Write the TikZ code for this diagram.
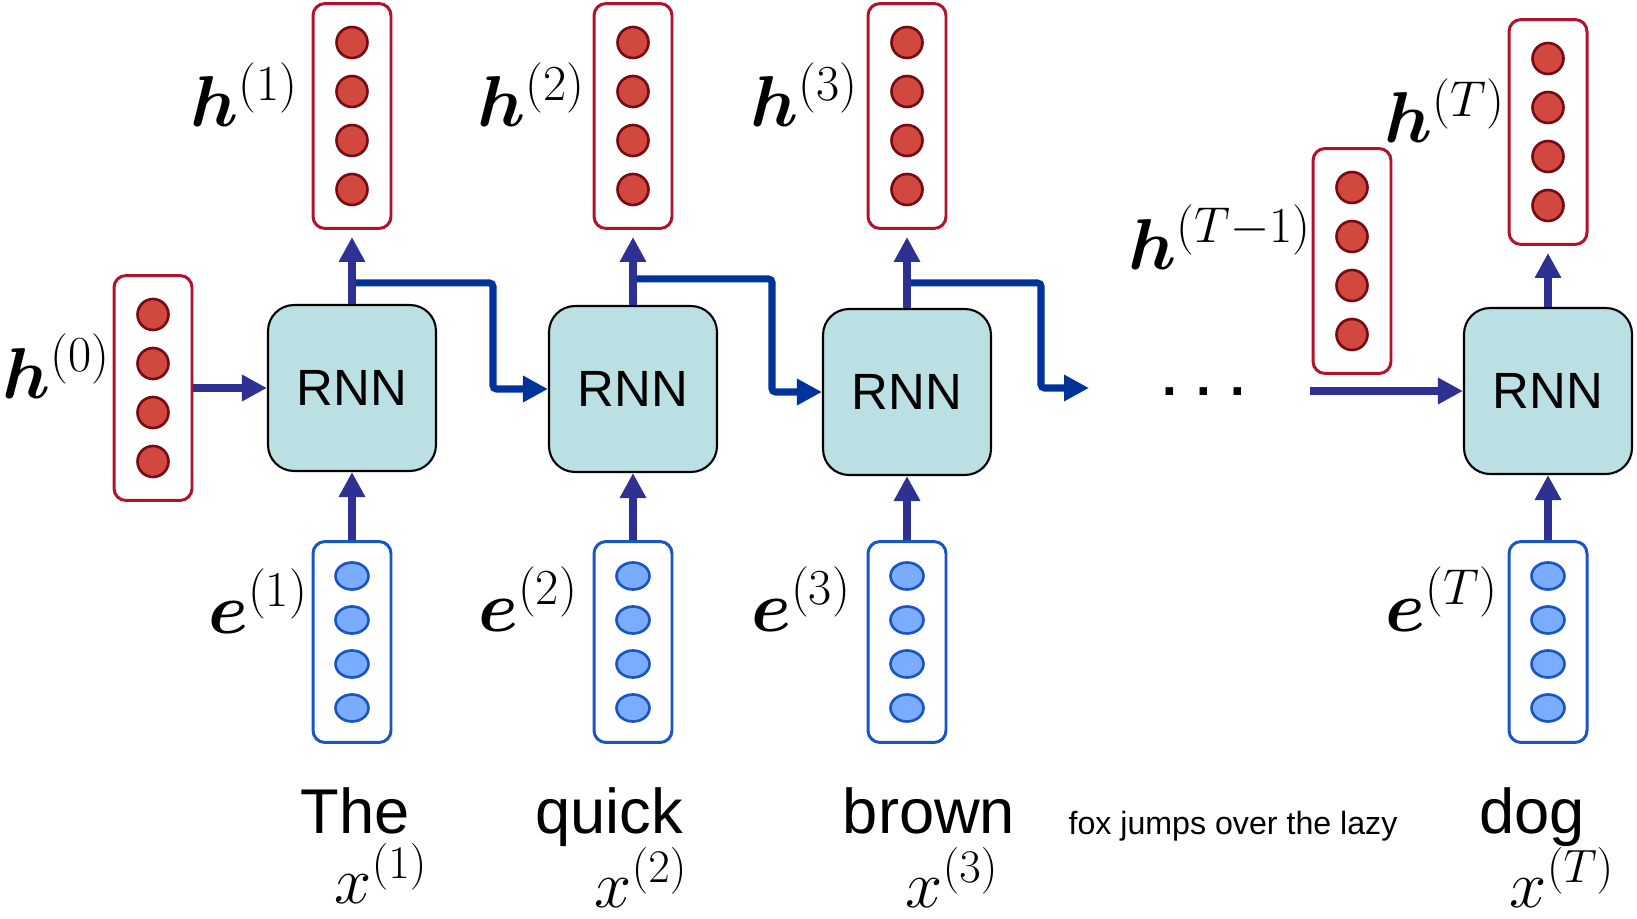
\RequirePackage{fix-cm}
\documentclass[tikz,border=0pt]{standalone}
\usepackage{amsmath,bm}
\usepackage{fontspec}
\newfontfamily\arial{Liberation Sans}
\usetikzlibrary{arrows.meta,calc}
\definecolor{HidRed}{RGB}{178,18,43}
\definecolor{HidDot}{RGB}{209,72,62}
\definecolor{HidDotLine}{RGB}{120,10,20}
\definecolor{EmbBlue}{RGB}{25,85,195}
\definecolor{EmbDot}{RGB}{122,172,255}
\definecolor{RnnCyan}{RGB}{186,224,227}
\definecolor{ArrIndigo}{RGB}{46,49,146}
\definecolor{ArrBlue}{RGB}{0,51,153}

\begin{document}
\begin{tikzpicture}[x=0.02cm,y=-0.02cm,
    hvec/.style={draw=HidRed,line width=1.7pt,rounded corners=0.24cm,
      minimum width=1.56cm,minimum height=4.5cm,inner sep=0},
    evec/.style={draw=EmbBlue,line width=1.7pt,rounded corners=0.24cm,
      minimum width=1.56cm,minimum height=4.02cm,inner sep=0},
    rnnbox/.style={draw=black,line width=1.2pt,fill=RnnCyan,rounded corners=0.52cm,
      minimum width=3.36cm,minimum height=3.32cm,inner sep=0,
      font=\arial\fontsize{29}{34}\selectfont},
    hdot/.style={draw=HidDotLine,fill=HidDot,line width=1.5pt},
    edot/.style={draw=EmbBlue,fill=EmbDot,line width=1.5pt},
    uparrow/.style={ArrIndigo,line width=4.3pt,-{Triangle[length=0.5cm,width=0.5cm]}},
    recarrow/.style={ArrBlue,line width=4pt,rounded corners=2pt,
      -{Triangle[length=0.5cm,width=0.5cm]}},
    lab/.style={inner sep=0,anchor=base,font=\fontsize{41}{48}\selectfont},
    xlab/.style={inner sep=0,anchor=base,font=\fontsize{38}{44}\selectfont},
    word/.style={inner sep=0,anchor=base,font=\arial\fontsize{36}{42}\selectfont}]
  \useasboundingbox (0,0) rectangle (1637,919);

  % hidden state vectors
  \node[hvec] (h0) at (153,388) {};
  \node[hvec] (h1) at (352,116) {};
  \node[hvec] (h2) at (633,116) {};
  \node[hvec] (h3) at (907,116) {};
  \node[hvec] (hTm) at (1352,261) {};
  \node[hvec] (hT) at (1548,132) {};
  \foreach \v in {h0,h1,h2,h3,hTm,hT}
    \foreach \d in {-1.5,-0.5,0.5,1.5}
      \filldraw[hdot] ($(\v)+(0,\d*49)$) circle (0.31cm);

  % embeddings
  \node[evec] (e1) at (352,642) {};
  \node[evec] (e2) at (633,642) {};
  \node[evec] (e3) at (907,642) {};
  \node[evec] (eT) at (1548,642) {};
  \foreach \v in {e1,e2,e3,eT}
    \foreach \d in {-1.5,-0.5,0.5,1.5}
      \filldraw[edot] ($(\v)+(0,\d*44)$) ellipse [x radius=0.33cm,y radius=0.27cm];

  % rnn cells
  \node[rnnbox] (rnn1) at (352,388) {RNN};
  \node[rnnbox] (rnn2) at (633,389) {RNN};
  \node[rnnbox] (rnn3) at (907,392) {RNN};
  \node[rnnbox] (rnnT) at (1548,391) {RNN};

  % recurrence
  \coordinate (gapin) at (1089,388);
  \coordinate (gapout) at (1310,391);
  \draw[recarrow] ($(rnn1.north)+(0,-21)$) -- ++(141,0) |- (rnn2.west);
  \draw[recarrow] ($(rnn2.north)+(0,-26)$) -- ++(139,0) |- (rnn3.west);
  \draw[recarrow] ($(rnn3.north)+(0,-25)$) -- ++(134,0) |- (gapin);
  \draw[uparrow] (gapout) -- (rnnT.west);
  \draw[uparrow] (h0.east) -- (rnn1.west);

  \foreach \c/\h/\e in {rnn1/h1/e1,rnn2/h2/e2,rnn3/h3/e3,rnnT/hT/eT}{
    \draw[uparrow] (\c.north) -- ([yshift=-0.14cm]\h.south);
    \draw[uparrow] (\e.north) -- (\c.south);
  }

  % labels
  \node[lab] (lh0) at (56,398) {$\bm{h}^{(0)}$};
  \node[lab] (lh1) at (244,127) {$\bm{h}^{(1)}$};
  \node[lab] (lh2) at (531,127) {$\bm{h}^{(2)}$};
  \node[lab] (lh3) at (804,127) {$\bm{h}^{(3)}$};
  \node[lab] (lhTm) at (1220,269) {$\bm{h}^{(T-1)}$};
  \node[lab] (lhT) at (1445,143) {$\bm{h}^{(T)}$};
  \node[lab] (le1) at (258,633) {$\bm{e}^{(1)}$};
  \node[lab] (le2) at (528,631) {$\bm{e}^{(2)}$};
  \node[lab] (le3) at (801,631) {$\bm{e}^{(3)}$};
  \node[lab] (leT) at (1442,631) {$\bm{e}^{(T)}$};
  \node[xlab] (lx1) at (381,903) {$x^{(1)}$};
  \node[xlab] (lx2) at (641,907) {$x^{(2)}$};
  \node[xlab] (lx3) at (952,907) {$x^{(3)}$};
  \node[xlab] (lxT) at (1562,907) {$x^{(T)}$};

  \node[word] (wThe) at (355,833) {The};
  \node[word] (wquick) at (609,833) {quick};
  \node[word] (wbrown) at (929,833) {brown};
  \node[word] (wdog) at (1532,833) {dog};
  \node[word,font=\arial\fontsize{18.3}{22}\selectfont] (wrest) at (1233,834)
    {fox jumps over the lazy};
  \node[word,font=\arial\bfseries\fontsize{30}{36}\selectfont] (dots) at (1204,395) {. . .};
\end{tikzpicture}
\end{document}
